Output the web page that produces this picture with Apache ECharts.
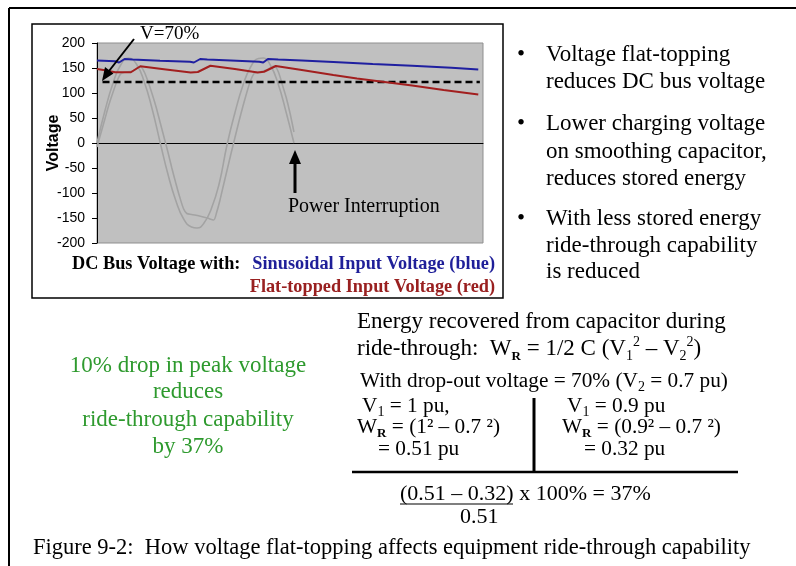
<!DOCTYPE html>
<html>
<head>
<meta charset="utf-8">
<script src="https://cdn.jsdelivr.net/npm/echarts@6/dist/echarts.min.js"></script>
<style>
html, body { margin: 0; padding: 0; background: #fff; }
#chart { width: 796px; height: 566px; }
</style>
</head>
<body>
<div id="chart"></div>
<script>
// time in ms, voltage in V
var sineT = [0, 1, 2, 3, 4, 5, 6, 7, 8, 9, 10, 11, 12, 12.7, 13.5, 14.5, 15.5, 16.5, 17.5, 18.5, 19.5, 20.5, 21.1, 22, 23, 24, 25];
var sineV = [0, 64, 118, 156, 170, 158, 122, 68, 2, -62, -115, -152, -168, -170, -162, -132, -82, -4, 60, 114, 152, 169, 170, 156, 118, 62, 0];

var flatT = [0, 0.5, 1, 1.5, 2, 2.5, 3, 3.5, 4.5, 5.5, 6, 6.5, 7, 7.5, 8, 8.5, 9, 9.5, 10, 10.5, 11, 11.4, 12, 13, 14, 14.8, 15.2, 15.6, 16, 16.5, 17, 17.5, 18, 18.5, 19, 19.5, 20, 20.5, 21.5, 22.5, 23, 23.5, 24, 24.5, 25];
var flatV = [-8, 20, 48, 76, 100, 122, 138, 141.5, 144, 153, 142, 122, 98, 72, 42, 12, -18, -50, -80, -108, -132, -141, -143, -146, -150, -154, -138, -115, -88, -55, -22, 10, 42, 72, 100, 125, 140, 141.5, 146, 154, 143, 118, 92, 60, 22];

var sinusT = [0, 2.3, 2.8, 3.5, 4.5, 8, 11.8, 12.3, 13.1, 14, 17, 20.6, 21.1, 21.7, 23, 26, 30, 35, 40, 45, 48.4];
var sinusV = [165, 163.5, 161, 168, 167, 164.5, 162.5, 161, 168, 167, 165, 162.5, 161, 168, 167, 165, 162, 158, 154.5, 150.5, 147];

var flatBusT = [0, 1, 2.3, 4.3, 5.5, 8.5, 11.9, 12.8, 14.4, 17.5, 20.4, 21.2, 22.7, 26, 30, 33, 36, 40, 44, 48.4];
var flatBusV = [148, 145.5, 141.5, 141.5, 153.5, 147.5, 140.8, 142, 154.5, 148, 141, 142.5, 154, 146, 136, 129, 123, 115, 106, 97];

var dropT = [0.7, 48.6];
var dropV = [122, 122];

var yTicks = { min: -200, max: 200, step: 50 };

function pairs(ts, vs) {
  return ts.map(function (t, i) { return [t, vs[i]]; });
}

var serif = '"Liberation Serif", "Times New Roman", serif';
var sans = '"Liberation Sans", Arial, sans-serif';

function txt(x, y, text, size, extra) {
  var style = {
    text: text, x: x, y: y,
    fontFamily: serif, fontSize: size,
    fill: '#000', textVerticalAlign: 'middle', textAlign: 'left',
    lineHeight: size + 4
  };
  for (var k in extra) style[k] = extra[k];
  return { type: 'text', z: 100, style: style };
}
function seg(x1, y1, x2, y2, w) {
  return { type: 'line', z: 100, shape: { x1: x1, y1: y1, x2: x2, y2: y2 }, style: { stroke: '#000', lineWidth: w } };
}
function tri(points) {
  return { type: 'polygon', z: 100, shape: { points: points }, style: { fill: '#000' } };
}

var rich = {
  sub: { fontSize: 14, lineHeight: 14, verticalAlign: 'bottom', fontFamily: serif },
  subR: { fontSize: 13, lineHeight: 13, verticalAlign: 'bottom', fontFamily: serif, fontWeight: 'bold' },
  sup: { fontSize: 14, lineHeight: 18, verticalAlign: 'top', fontFamily: serif }
};

var body = 23;    // main slide text
var calc = 21.3;  // calculation lines

var chart = echarts.init(document.getElementById('chart'));

chart.setOption({
  backgroundColor: '#fff',
  animation: false,
  grid: {
    left: 97, top: 43, width: 386, height: 200,
    show: true, backgroundColor: '#c0c0c0', borderColor: '#8f8f8f', borderWidth: 1
  },
  xAxis: {
    type: 'value', min: 0, max: 49,
    axisLine: { onZero: true, lineStyle: { color: '#000', width: 1 } },
    axisTick: { show: false },
    axisLabel: { show: false },
    splitLine: { show: false }
  },
  yAxis: {
    type: 'value', min: yTicks.min, max: yTicks.max, interval: yTicks.step,
    name: 'Voltage', nameLocation: 'middle', nameGap: 35, nameMoveOverlap: false,
    nameTextStyle: { fontFamily: sans, fontWeight: 'bold', fontSize: 16, color: '#000' },
    axisLine: { show: true, lineStyle: { color: '#000', width: 1 } },
    axisTick: { show: true, length: 5, lineStyle: { color: '#000' } },
    axisLabel: { color: '#000', fontFamily: sans, fontSize: 14, margin: 12 },
    splitLine: { show: false }
  },
  series: [
    {
      type: 'line', data: pairs(sineT, sineV), showSymbol: false, smooth: true, silent: true,
      lineStyle: { color: '#a3a3a3', width: 1.6 }
    },
    {
      type: 'line', data: pairs(flatT, flatV), showSymbol: false, smooth: 0.3, silent: true,
      lineStyle: { color: '#a3a3a3', width: 1.6 }
    },
    {
      type: 'line', data: pairs(dropT, dropV), showSymbol: false, silent: true,
      lineStyle: { color: '#000', width: 2.6, type: [7, 4] }
    },
    {
      type: 'line', data: pairs(flatBusT, flatBusV), showSymbol: false, silent: true,
      lineStyle: { color: '#a21f1f', width: 2 }
    },
    {
      type: 'line', data: pairs(sinusT, sinusV), showSymbol: false, silent: true,
      lineStyle: { color: '#1f1fa0', width: 2 }
    }
  ],
  graphic: [
    // outer frame and chart box
    seg(9, 8, 796, 8, 2),
    seg(9, 8, 9, 566, 2),
    { type: 'rect', z: 100, shape: { x: 32, y: 24, width: 471, height: 274 }, style: { fill: 'none', stroke: '#000', lineWidth: 1.5 } },

    // annotations in the plot
    txt(140, 34, 'V=70%', 19),
    seg(134, 39, 109, 71, 2),
    tri([[102, 81], [113.5, 73.5], [105, 67]]),
    txt(288, 207, 'Power Interruption', 20),
    seg(295, 193, 295, 162, 3),
    tri([[295, 150], [289, 164], [301, 164]]),

    // legend text
    txt(72, 264, 'DC Bus Voltage with:', 18.3, { fontWeight: 'bold' }),
    txt(495, 264, 'Sinusoidal Input Voltage (blue)', 18.3, { fontWeight: 'bold', fill: '#1f1f99', textAlign: 'right' }),
    txt(495, 287, 'Flat-topped Input Voltage (red)', 18.3, { fontWeight: 'bold', fill: '#992020', textAlign: 'right' }),

    // bullets
    txt(517, 55, '•', body), txt(546, 55, 'Voltage flat-topping', body),
    txt(546, 82, 'reduces DC bus voltage', body),
    txt(517, 124, '•', body), txt(546, 124, 'Lower charging voltage', body),
    txt(546, 152, 'on smoothing capacitor,', body),
    txt(546, 179, 'reduces stored energy', body),
    txt(517, 219, '•', body), txt(546, 219, 'With less stored energy', body),
    txt(546, 246, 'ride-through capability', body),
    txt(546, 272, 'is reduced', body),

    // green note
    txt(188, 366, '10% drop in peak voltage', body, { fill: '#2e9a2e', textAlign: 'center' }),
    txt(188, 392, 'reduces', body, { fill: '#2e9a2e', textAlign: 'center' }),
    txt(188, 420, 'ride-through capability', body, { fill: '#2e9a2e', textAlign: 'center' }),
    txt(188, 447, 'by 37%', body, { fill: '#2e9a2e', textAlign: 'center' }),

    // energy calculation
    txt(357, 322, 'Energy recovered from capacitor during', body),
    txt(357, 349, 'ride-through:  W{subR|R} = 1/2 C (V{sub|1}{sup|2} – V{sub|2}{sup|2})', body, { rich: rich, lineHeight: 28 }),
    txt(360, 381, 'With drop-out voltage = 70% (V{sub|2} = 0.7 pu)', calc, { rich: rich, lineHeight: 26 }),
    txt(362, 406, 'V{sub|1} = 1 pu,', calc, { rich: rich, lineHeight: 26 }),
    txt(567, 406, 'V{sub|1} = 0.9 pu', calc, { rich: rich, lineHeight: 26 }),
    txt(357, 427, 'W{subR|R} = (1² – 0.7 ²)', calc, { rich: rich, lineHeight: 26 }),
    txt(562, 427, 'W{subR|R} = (0.9² – 0.7 ²)', calc, { rich: rich, lineHeight: 26 }),
    txt(378, 449, '= 0.51 pu', calc),
    txt(584, 449, '= 0.32 pu', calc),
    seg(352, 472, 738, 472, 2.5),
    seg(534, 398, 534, 472, 3),
    txt(400, 494, '(0.51 – 0.32) x 100% = 37%', 22),
    seg(400, 504, 513, 504, 1.2),
    txt(460, 517, '0.51', 22),

    // caption
    txt(33, 548, 'Figure 9-2:  How voltage flat-topping affects equipment ride-through capability', 22.5)
  ]
});
</script>
</body>
</html>
